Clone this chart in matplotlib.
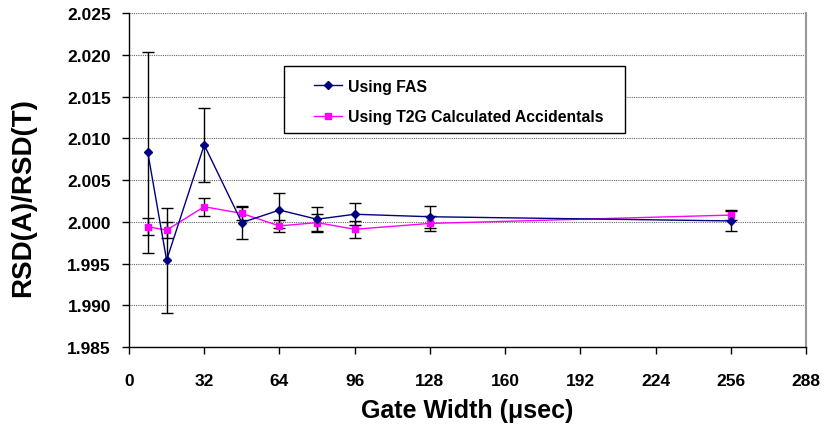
import matplotlib.pyplot as plt
from matplotlib.patches import Rectangle
from matplotlib.ticker import FormatStrFormatter

plt.rcParams['font.family'] = ['Liberation Sans', 'DejaVu Sans']
plt.rcParams['font.weight'] = 'bold'

# gate width (usec)
gate = [8, 16, 32, 48, 64, 80, 96, 128, 256]

# RSD(A)/RSD(T) using FAS
fas = [2.0083, 1.9954, 2.0092, 1.9999, 2.0014, 2.0003, 2.0009, 2.0006, 2.0001]
fas_err = [0.0120, 0.0063, 0.0044, 0.0020, 0.0021, 0.0015, 0.0013, 0.0013, 0.0012]

# RSD(A)/RSD(T) using T2G calculated accidentals
t2g = [1.9994, 1.9990, 2.0018, 2.0010, 1.9995, 1.9999, 1.9991, 1.9998, 2.0008]
t2g_err = [0.0010, 0.0010, 0.0011, 0.0008, 0.0007, 0.0010, 0.0010, 0.0009, 0.0006]

xticks = list(range(0, 289, 32))
yticks = [1.985, 1.990, 1.995, 2.000, 2.005, 2.010, 2.015, 2.020, 2.025]

fig = plt.figure(figsize=(8.28, 4.27), dpi=100)
ax = fig.add_axes([0.1558, 0.185, 0.8176, 0.7822])

for y in yticks:
    ax.axhline(y, color='#666666', linestyle=(0, (1, 1)), linewidth=0.8, zorder=1)

ax.errorbar(gate, fas, yerr=fas_err, fmt='none', ecolor='black',
            elinewidth=1, capsize=4.5, capthick=1, zorder=2)
ax.errorbar(gate, t2g, yerr=t2g_err, fmt='none', ecolor='black',
            elinewidth=1, capsize=4.5, capthick=1, zorder=2)

ax.plot(gate, fas, color='#000080', marker='D', markersize=3.8,
        linewidth=1, label='Using FAS', zorder=4)
ax.plot(gate, t2g, color='#FF00FF', marker='s', markersize=3.8,
        linewidth=1, label='Using T2G Calculated Accidentals', zorder=3)

ax.set_xlim(0, 288)
ax.set_ylim(1.985, 2.025)
ax.set_xticks(xticks)
ax.set_yticks(yticks)
ax.yaxis.set_major_formatter(FormatStrFormatter('%.3f'))
ax.tick_params(axis='both', direction='out', length=5, width=1,
               labelsize=12.5, color='black')
ax.tick_params(axis='x', pad=14)
ax.tick_params(axis='y', pad=8)

ax.spines['top'].set_visible(False)
ax.spines['right'].set_color('#999999')
ax.spines['right'].set_linewidth(1.5)
ax.spines['left'].set_linewidth(1)
ax.spines['bottom'].set_linewidth(1)

ax.set_xlabel('Gate Width (\u03bcsec)', fontsize=18, fontweight='bold')
ax.xaxis.set_label_coords(0.5, -0.152)
ax.set_ylabel('RSD(A)/RSD(T)', fontsize=20, fontweight='bold')
ax.yaxis.set_label_coords(-0.137, 0.45)

box = Rectangle((0.229, 0.641), 0.504, 0.2, transform=ax.transAxes,
                facecolor='white', edgecolor='black', linewidth=1, zorder=5)
ax.add_patch(box)
leg = ax.legend(loc='upper left', bbox_to_anchor=(0.273, 0.803), frameon=False,
                fontsize=11.3, borderpad=0, borderaxespad=0, handlelength=1.8,
                handletextpad=0.35, labelspacing=1.0)
leg.set_zorder(6)

fig.savefig('out.png', dpi=100)
